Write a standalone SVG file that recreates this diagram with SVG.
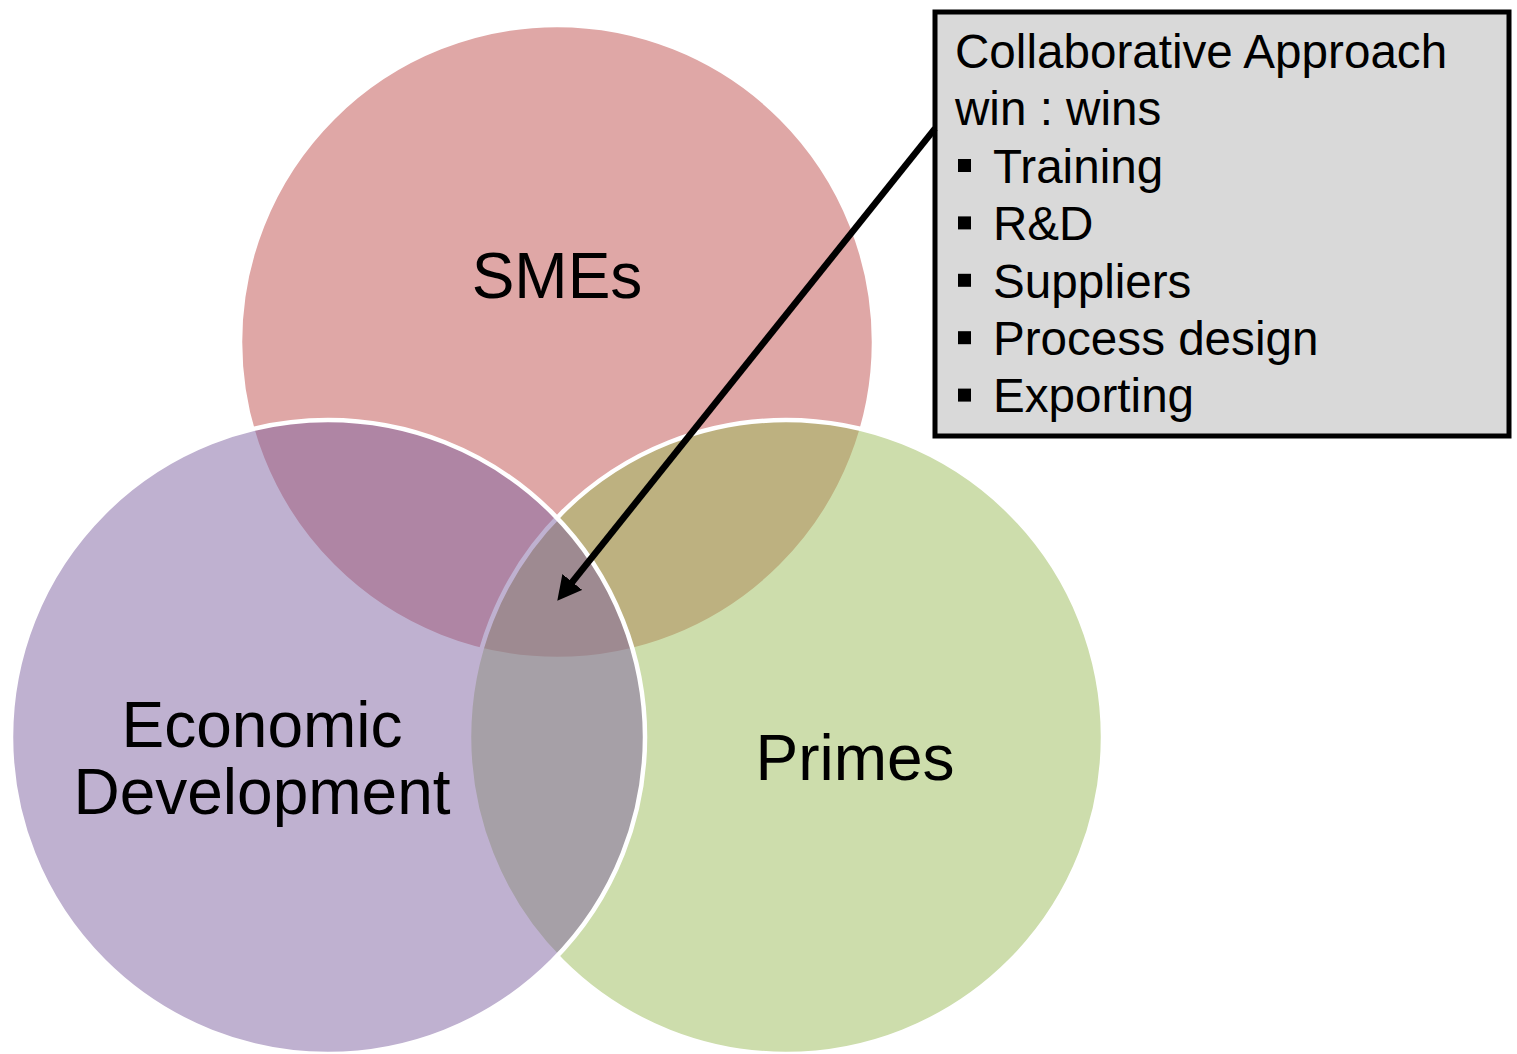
<svg xmlns="http://www.w3.org/2000/svg" width="1517" height="1054" viewBox="0 0 1517 1054">
  <style>
    .circ { stroke: #ffffff; stroke-width: 4.5; fill-opacity: 0.5; }
    .lbl { font-family: "Liberation Sans", Arial, sans-serif; font-size: 64px; fill: #000000; text-anchor: middle; }
    .box { fill: #d9d9d9; stroke: #000000; stroke-width: 5; }
    .btxt { font-family: "Liberation Sans", Arial, sans-serif; font-size: 47.6px; fill: #000000; }
    .bul { fill: #000000; }
    .conn { stroke: #000000; stroke-width: 6.5; fill: none; }
  </style>
  <defs>
    <marker id="arrow" markerUnits="userSpaceOnUse" markerWidth="24" markerHeight="25.4" refX="4" refY="12.7" orient="auto" viewBox="0 0 24 25.4">
      <path d="M0,0 L24,12.7 L0,25.4 z" fill="#000000"/>
    </marker>
  </defs>
  <rect width="1517" height="1054" fill="#ffffff"/>

  <g id="smes">
    <circle class="circ" cx="557" cy="342" r="317" fill="#c0504d"/>
  </g>
  <g id="primes">
    <circle class="circ" cx="786" cy="737" r="317" fill="#9bbb59"/>
  </g>
  <g id="economic-development">
    <circle class="circ" cx="328" cy="737" r="317" fill="#8064a2"/>
  </g>

  <g id="labels">
    <text class="lbl" x="557" y="298">SMEs</text>
    <text class="lbl" x="262" y="747">Economic</text>
    <text class="lbl" x="262" y="814">Development</text>
    <text class="lbl" x="855" y="780">Primes</text>
  </g>

  <g id="callout">
    <rect class="box" x="935" y="12" width="574" height="424"/>
    <text class="btxt" x="955" y="68">Collaborative Approach</text>
    <text class="btxt" x="955" y="125.4">win : wins</text>
    <rect class="bul" x="958" y="159" width="13" height="13"/>
    <text class="btxt" x="993" y="182.8">Training</text>
    <rect class="bul" x="958" y="216.4" width="13" height="13"/>
    <text class="btxt" x="993" y="240.2">R&amp;D</text>
    <rect class="bul" x="958" y="273.8" width="13" height="13"/>
    <text class="btxt" x="993" y="297.6">Suppliers</text>
    <rect class="bul" x="958" y="331.2" width="13" height="13"/>
    <text class="btxt" x="993" y="355">Process design</text>
    <rect class="bul" x="958" y="388.6" width="13" height="13"/>
    <text class="btxt" x="993" y="412.4">Exporting</text>
  </g>

  <g id="connectors">
    <line class="conn" x1="935" y1="128.5" x2="569.8" y2="585.1" marker-end="url(#arrow)"/>
  </g>
</svg>
